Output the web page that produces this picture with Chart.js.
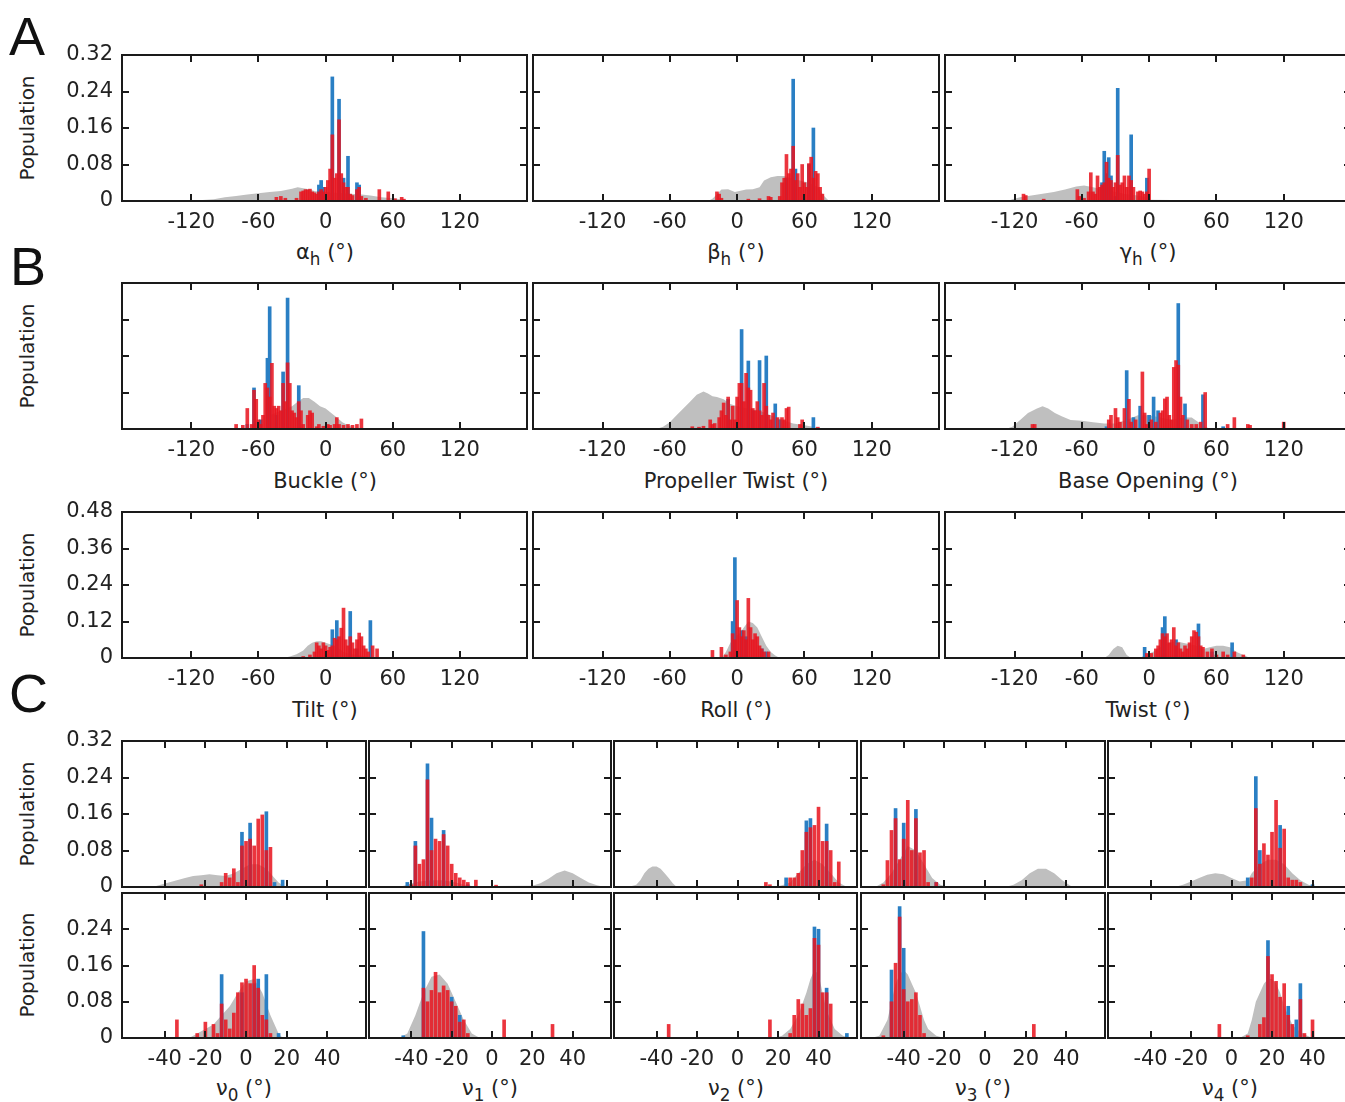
<!DOCTYPE html>
<html>
<head>
<meta charset="utf-8">
<script src="https://cdn.jsdelivr.net/npm/chart.js@4.4.1/dist/chart.umd.min.js"></script>
<style>
  html, body { margin: 0; padding: 0; width: 1345px; height: 1102px; overflow: hidden; background: #fff; }
  body { font-family: "DejaVu Sans", sans-serif; color: #222; position: relative; }
  canvas { position: absolute; }
  .lbl { position: absolute; font-size: 21px; line-height: 24px; white-space: nowrap; transform: translateX(-50%); }
  .pop { position: absolute; font-size: 20px; line-height: 24px; white-space: nowrap; transform: translate(-50%, -50%) rotate(-90deg); }
  .letter { position: absolute; font-family: "Liberation Sans", Arial, sans-serif; font-size: 54px; line-height: 54px; color: #111; }
  sub { font-size: 0.8em; vertical-align: -0.35em; line-height: 0; }
</style>
</head>
<body>
<div class="letter" style="left:9px;top:9px">A</div>
<div class="letter" style="left:10px;top:239px">B</div>
<div class="letter" style="left:9px;top:666px">C</div>

<div class="pop" style="left:27px;top:128px">Population</div>
<div class="pop" style="left:27px;top:356px">Population</div>
<div class="pop" style="left:27px;top:585px">Population</div>
<div class="pop" style="left:27px;top:814px">Population</div>
<div class="pop" style="left:27px;top:965px">Population</div>

<div class="lbl" style="left:325px;top:240px">α<sub>h</sub> (°)</div>
<div class="lbl" style="left:736px;top:240px">β<sub>h</sub> (°)</div>
<div class="lbl" style="left:1148px;top:240px">γ<sub>h</sub> (°)</div>
<div class="lbl" style="left:325px;top:469px">Buckle (°)</div>
<div class="lbl" style="left:736px;top:469px">Propeller Twist (°)</div>
<div class="lbl" style="left:1148px;top:469px">Base Opening (°)</div>
<div class="lbl" style="left:325px;top:698px">Tilt (°)</div>
<div class="lbl" style="left:736px;top:698px">Roll (°)</div>
<div class="lbl" style="left:1148px;top:698px">Twist (°)</div>
<div class="lbl" style="left:244px;top:1076px">ν<sub>0</sub> (°)</div>
<div class="lbl" style="left:490px;top:1076px">ν<sub>1</sub> (°)</div>
<div class="lbl" style="left:736px;top:1076px">ν<sub>2</sub> (°)</div>
<div class="lbl" style="left:983px;top:1076px">ν<sub>3</sub> (°)</div>
<div class="lbl" style="left:1230px;top:1076px">ν<sub>4</sub> (°)</div>

<script>
// tick values
const wideTicks = [-120, -60, 0, 60, 120];
const narrowTicks = [-40, -20, 0, 20, 40];
const popTicks32 = [0, 0.08, 0.16, 0.24, 0.32];
const popTicks48 = [0, 0.12, 0.24, 0.36, 0.48];
const popTicks24 = [0, 0.08, 0.16, 0.24];

// A: helical angles  [angle, population]
const alphaGray = [[-114,0],[-110,0.002],[-100,0.004],[-90,0.008],[-80,0.011],[-70,0.014],[-60,0.017],[-50,0.02],[-40,0.022],[-30,0.027],[-25,0.03],[-20,0.028],[-15,0.026],[-10,0.022],[-5,0.02],[0,0.02],[10,0.018],[20,0.016],[30,0.015],[40,0.012],[50,0.008],[60,0.006],[70,0.003],[78,0]];
const alphaBlue = [[-6,0.035],[-4,0.045],[-2,0.03],[6,0.272],[12,0.223],[16,0.05],[20,0.098],[28,0.04],[30,0.035]];
const alphaRed = [[-44,0.008],[-40,0.01],[-36,0.006],[-26,0.006],[-22,0.02],[-20,0.022],[-18,0.025],[-16,0.024],[-14,0.026],[-12,0.02],[-10,0.018],[-8,0.015],[-6,0.02],[-4,0.025],[-2,0.02],[0,0.03],[2,0.045],[4,0.07],[6,0.145],[8,0.05],[10,0.06],[12,0.178],[14,0.06],[16,0.04],[18,0.03],[20,0.03],[22,0.015],[24,0.012],[28,0.025],[30,0.03],[32,0.01],[36,0.006],[48,0.025],[56,0.02],[62,0.005],[68,0.008],[70,0.004]];

const betaGray = [[-26,0],[-22,0.005],[-18,0.015],[-14,0.025],[-8,0.026],[-2,0.02],[2,0.022],[8,0.025],[14,0.026],[20,0.03],[24,0.045],[30,0.052],[36,0.055],[42,0.055],[48,0.05],[56,0.045],[64,0.04],[72,0.03],[78,0.01],[82,0]];
const betaBlue = [[44,0.05],[50,0.267],[52,0.07],[64,0.08],[68,0.16]];
const betaRed = [[-18,0.02],[-16,0.015],[-14,0.006],[10,0.004],[20,0.005],[28,0.01],[30,0.008],[38,0.01],[40,0.04],[42,0.05],[44,0.102],[46,0.06],[48,0.07],[50,0.12],[52,0.045],[54,0.06],[56,0.03],[58,0.08],[60,0.04],[62,0.03],[64,0.082],[66,0.096],[68,0.05],[70,0.065],[72,0.06],[74,0.03],[76,0.015]];

const gammaGray = [[-126,0],[-122,0.004],[-115,0.008],[-105,0.012],[-95,0.016],[-85,0.02],[-75,0.025],[-65,0.032],[-58,0.034],[-50,0.03],[-40,0.025],[-30,0.02],[-20,0.015],[-10,0.012],[-2,0.008],[0,0.003],[20,0.002],[50,0.002],[58,0]];
const gammaBlue = [[-42,0.04],[-40,0.109],[-38,0.06],[-36,0.095],[-34,0.055],[-30,0.01],[-28,0.247],[-16,0.145],[-2,0.05]];
const gammaRed = [[-112,0.015],[-110,0.012],[-94,0.004],[-64,0.025],[-62,0.01],[-58,0.006],[-54,0.02],[-52,0.062],[-50,0.02],[-48,0.015],[-46,0.055],[-44,0.03],[-42,0.035],[-40,0.04],[-38,0.085],[-36,0.05],[-34,0.045],[-32,0.03],[-30,0.04],[-28,0.1],[-26,0.035],[-24,0.04],[-22,0.055],[-20,0.03],[-18,0.055],[-16,0.045],[-14,0.03],[-10,0.02],[-8,0.022],[-6,0.02],[-4,0.015],[-2,0.02],[0,0.07]];

// B: base-pair parameters
const buckleGray = [[-52,0],[-50,0.03],[-45,0.035],[-40,0.04],[-35,0.045],[-30,0.05],[-25,0.06],[-20,0.068],[-15,0.068],[-10,0.06],[-5,0.05],[0,0.045],[5,0.035],[10,0.025],[15,0.015],[20,0.008],[25,0.003],[30,0]];
const buckleBlue = [[-70,0.01],[-64,0.09],[-58,0.02],[-52,0.155],[-50,0.268],[-44,0.03],[-38,0.125],[-34,0.287],[-24,0.095]];
const buckleRed = [[-80,0.01],[-74,0.008],[-70,0.045],[-66,0.01],[-64,0.085],[-62,0.065],[-60,0.02],[-58,0.01],[-56,0.03],[-54,0.1],[-52,0.09],[-50,0.07],[-48,0.144],[-46,0.05],[-44,0.045],[-42,0.05],[-40,0.04],[-38,0.1],[-36,0.06],[-34,0.145],[-32,0.1],[-30,0.04],[-28,0.035],[-26,0.025],[-24,0.06],[-22,0.04],[-20,0.01],[-16,0.03],[-14,0.04],[-12,0.035],[-8,0.005],[-6,0.01],[-2,0.006],[2,0.01],[4,0.008],[8,0.01],[10,0.025],[12,0.01],[16,0.008],[20,0.01],[24,0.008],[28,0.01],[32,0.022]];

const propGray = [[-72,0],[-66,0.005],[-60,0.015],[-54,0.03],[-48,0.045],[-42,0.06],[-36,0.075],[-30,0.082],[-26,0.078],[-22,0.072],[-18,0.07],[-12,0.065],[-6,0.055],[0,0.05],[10,0.045],[20,0.04],[30,0.03],[40,0.02],[50,0.012],[60,0.008],[70,0.004],[76,0]];
const propBlue = [[-8,0.065],[4,0.218],[10,0.149],[14,0.04],[20,0.15],[26,0.16],[34,0.055],[38,0.02],[68,0.025]];
const propRed = [[-40,0.005],[-34,0.004],[-30,0.006],[-24,0.02],[-22,0.01],[-20,0.012],[-16,0.025],[-14,0.04],[-12,0.057],[-10,0.03],[-8,0.07],[-6,0.02],[-4,0.05],[-2,0.02],[0,0.07],[2,0.1],[4,0.1],[6,0.06],[8,0.122],[10,0.09],[12,0.085],[14,0.045],[16,0.04],[18,0.06],[20,0.04],[22,0.03],[24,0.1],[26,0.05],[28,0.03],[30,0.02],[32,0.035],[36,0.025],[40,0.025],[42,0.02],[44,0.045],[46,0.048],[56,0.01],[58,0.02],[72,0.004]];

const openGray = [[-128,0],[-122,0.005],[-115,0.02],[-108,0.035],[-100,0.045],[-95,0.05],[-90,0.045],[-84,0.035],[-78,0.028],[-70,0.02],[-60,0.018],[-50,0.015],[-40,0.012],[-30,0.012],[-20,0.02],[-10,0.03],[0,0.03],[10,0.025],[20,0.02],[30,0.025],[38,0.025],[44,0.015],[50,0.005],[55,0]];
const openBlue = [[-38,0.005],[-20,0.128],[-14,0.025],[-8,0.05],[0,0.03],[4,0.07],[8,0.04],[26,0.275],[32,0.055],[48,0.075],[66,0.005]];
const openRed = [[-104,0.01],[-102,0.01],[-36,0.02],[-34,0.03],[-30,0.045],[-28,0.025],[-26,0.015],[-22,0.045],[-18,0.065],[-16,0.015],[-12,0.02],[-6,0.125],[-4,0.035],[-2,0.01],[2,0.02],[6,0.015],[10,0.035],[12,0.04],[14,0.066],[16,0.07],[18,0.03],[20,0.02],[22,0.135],[24,0.15],[26,0.14],[28,0.07],[30,0.03],[34,0.02],[38,0.01],[42,0.01],[46,0.015],[50,0.08],[70,0.01],[76,0.025],[88,0.01],[90,0.008],[120,0.015]];

const tiltGray = [[-38,0],[-32,0.005],[-26,0.012],[-20,0.025],[-16,0.04],[-12,0.05],[-8,0.055],[-4,0.055],[0,0.05],[4,0.045],[8,0.04],[12,0.03],[16,0.02],[20,0.015],[28,0.01],[36,0.005],[44,0]];
const tiltBlue = [[6,0.093],[10,0.123],[22,0.153],[28,0.03],[40,0.123]];
const tiltRed = [[-20,0.005],[-14,0.01],[-10,0.02],[-8,0.05],[-6,0.04],[-4,0.03],[-2,0.05],[0,0.04],[2,0.025],[4,0.035],[6,0.04],[8,0.065],[10,0.06],[12,0.07],[14,0.098],[16,0.164],[18,0.06],[20,0.04],[22,0.07],[24,0.05],[26,0.03],[28,0.06],[30,0.082],[32,0.07],[34,0.04],[36,0.03],[38,0.02],[42,0.04],[46,0.03]];

const rollGray = [[-14,0],[-10,0.02],[-6,0.05],[-2,0.07],[2,0.08],[6,0.1],[10,0.12],[14,0.115],[18,0.1],[22,0.07],[26,0.04],[30,0.02],[34,0.008],[38,0]];
const rollBlue = [[-4,0.12],[-2,0.33],[4,0.09],[8,0.07],[22,0.03],[26,0.02]];
const rollRed = [[-22,0.025],[-14,0.035],[-10,0.01],[-6,0.02],[-4,0.08],[-2,0.06],[0,0.189],[2,0.1],[4,0.07],[6,0.09],[8,0.06],[10,0.196],[12,0.1],[14,0.06],[16,0.08],[18,0.07],[20,0.04],[22,0.03],[24,0.02],[28,0.02]];

const twistGray = [[-40,0],[-36,0.01],[-32,0.03],[-28,0.04],[-24,0.035],[-20,0.01],[-16,0],[-8,0],[-4,0.01],[0,0.015],[6,0.025],[12,0.04],[18,0.05],[24,0.055],[30,0.05],[36,0.045],[42,0.04],[48,0.03],[54,0.035],[60,0.04],[66,0.04],[72,0.035],[78,0.02],[84,0.01],[90,0]];
const twistBlue = [[-4,0.035],[12,0.1],[14,0.136],[24,0.06],[44,0.112],[56,0.02],[74,0.05]];
const twistRed = [[-2,0.015],[2,0.015],[6,0.03],[8,0.04],[10,0.06],[12,0.08],[14,0.07],[16,0.08],[18,0.05],[20,0.06],[22,0.1],[24,0.04],[26,0.05],[28,0.03],[30,0.02],[32,0.04],[34,0.03],[36,0.05],[38,0.07],[40,0.09],[42,0.085],[44,0.07],[46,0.04],[48,0.035],[52,0.02],[56,0.03],[60,0.01],[66,0.02],[70,0.01],[76,0.02],[84,0.01]];

// C: sugar torsions, top row and bottom row
const nu0TopGray = [[-46,0],[-42,0.005],[-38,0.01],[-34,0.015],[-30,0.02],[-26,0.024],[-22,0.026],[-18,0.028],[-14,0.026],[-10,0.024],[-6,0.03],[-2,0.04],[2,0.05],[6,0.05],[10,0.04],[14,0.02],[16,0.01],[18,0.004],[20,0]];
const nu0TopBlue = [[-2,0.12],[2,0.14],[10,0.165],[14,0.01],[18,0.015]];
const nu0TopRed = [[-22,0.005],[-12,0.01],[-10,0.03],[-8,0.02],[-6,0.04],[-4,0.01],[-2,0.09],[0,0.1],[2,0.105],[4,0.09],[6,0.149],[8,0.158],[10,0.08],[12,0.087]];
const nu0BotGray = [[-28,0],[-24,0.01],[-20,0.02],[-16,0.03],[-12,0.05],[-8,0.07],[-4,0.1],[0,0.125],[4,0.13],[8,0.1],[12,0.05],[16,0.01],[18,0]];
const nu0BotBlue = [[-12,0.14],[-2,0.1],[4,0.12],[6,0.13],[10,0.14],[16,0.01]];
const nu0BotRed = [[-34,0.04],[-24,0.01],[-20,0.035],[-16,0.03],[-14,0.01],[-12,0.075],[-10,0.04],[-8,0.02],[-6,0.055],[-4,0.1],[-2,0.122],[0,0.13],[2,0.12],[4,0.16],[6,0.11],[8,0.05],[10,0.04],[12,0.01]];

const nu1TopGray = [[-46,0],[-42,0.005],[-40,0.008],[-36,0.012],[-30,0.015],[-24,0.015],[-18,0.01],[-14,0.005],[-10,0.002],[0,0.002],[20,0.003],[24,0.008],[28,0.018],[32,0.03],[36,0.036],[40,0.03],[44,0.02],[48,0.01],[52,0.004],[56,0]];
const nu1TopBlue = [[-42,0.01],[-38,0.1],[-32,0.27],[-30,0.151],[-24,0.124],[-12,0.005]];
const nu1TopRed = [[-40,0.005],[-38,0.09],[-36,0.05],[-34,0.06],[-32,0.235],[-30,0.08],[-28,0.105],[-26,0.1],[-24,0.115],[-22,0.09],[-20,0.05],[-18,0.03],[-16,0.02],[-14,0.015],[-12,0.01],[-8,0.015],[2,0.004]];
const nu1BotGray = [[-46,0],[-42,0.01],[-38,0.05],[-34,0.1],[-30,0.135],[-26,0.14],[-22,0.12],[-18,0.08],[-14,0.04],[-10,0.01],[-6,0]];
const nu1BotBlue = [[-44,0.005],[-34,0.235],[-20,0.09],[-16,0.05]];
const nu1BotRed = [[-34,0.11],[-32,0.08],[-30,0.105],[-28,0.145],[-26,0.1],[-24,0.115],[-22,0.105],[-20,0.08],[-18,0.07],[-16,0.035],[-14,0.04],[-12,0.01],[6,0.04],[30,0.03]];

const nu2TopGray = [[-54,0],[-50,0.005],[-48,0.015],[-46,0.03],[-44,0.04],[-42,0.045],[-40,0.045],[-38,0.04],[-36,0.03],[-34,0.02],[-32,0.008],[-30,0],[18,0],[22,0.004],[26,0.01],[30,0.03],[34,0.05],[38,0.06],[42,0.05],[46,0.03],[50,0.01],[54,0]];
const nu2TopBlue = [[24,0.02],[34,0.145],[36,0.15],[44,0.138]];
const nu2TopRed = [[14,0.01],[16,0.005],[26,0.02],[28,0.02],[30,0.03],[32,0.08],[34,0.12],[36,0.13],[38,0.135],[40,0.175],[42,0.1],[44,0.1],[46,0.08],[48,0.01],[50,0.055]];
const nu2BotGray = [[18,0],[22,0.005],[26,0.02],[30,0.05],[34,0.1],[36,0.13],[38,0.15],[40,0.14],[42,0.1],[44,0.06],[48,0.02],[52,0.005],[56,0]];
const nu2BotBlue = [[38,0.245],[40,0.24],[44,0.11],[54,0.01]];
const nu2BotRed = [[-34,0.03],[16,0.04],[26,0.01],[28,0.05],[30,0.085],[32,0.075],[34,0.05],[36,0.065],[38,0.22],[40,0.205],[42,0.1],[44,0.1],[46,0.075]];

const nu3TopGray = [[-54,0],[-50,0.01],[-46,0.03],[-42,0.06],[-38,0.09],[-34,0.08],[-30,0.05],[-26,0.02],[-22,0.005],[-18,0],[10,0],[14,0.005],[18,0.015],[22,0.03],[26,0.04],[30,0.04],[34,0.03],[38,0.015],[42,0.003],[44,0]];
const nu3TopBlue = [[-44,0.172],[-40,0.14],[-34,0.17],[-24,0.01]];
const nu3TopRed = [[-50,0.005],[-48,0.058],[-46,0.124],[-44,0.15],[-42,0.06],[-40,0.105],[-38,0.19],[-36,0.08],[-34,0.15],[-32,0.075],[-30,0.08],[-28,0.01],[-24,0.01]];
const nu3BotGray = [[-56,0],[-52,0.005],[-48,0.04],[-46,0.08],[-44,0.12],[-42,0.14],[-40,0.15],[-38,0.14],[-36,0.12],[-34,0.1],[-32,0.07],[-30,0.04],[-28,0.02],[-24,0.005],[-20,0]];
const nu3BotBlue = [[-46,0.15],[-42,0.29],[-40,0.198]];
const nu3BotRed = [[-50,0.005],[-46,0.08],[-44,0.165],[-42,0.267],[-40,0.107],[-38,0.08],[-36,0.085],[-34,0.1],[-32,0.05],[-30,0.01],[24,0.03]];

const nu4TopGray = [[-28,0],[-24,0.005],[-20,0.012],[-16,0.02],[-12,0.027],[-8,0.03],[-4,0.028],[0,0.02],[4,0.012],[8,0.015],[10,0.03],[14,0.05],[18,0.06],[22,0.06],[26,0.05],[30,0.03],[34,0.015],[38,0.005],[42,0]];
const nu4TopBlue = [[8,0.02],[12,0.242],[14,0.08],[24,0.135],[40,0.005]];
const nu4TopRed = [[10,0.02],[12,0.172],[14,0.05],[16,0.095],[18,0.07],[20,0.12],[22,0.19],[24,0.085],[26,0.127],[28,0.02],[30,0.015],[32,0.015],[34,0.01]];
const nu4BotGray = [[4,0],[8,0.01],[10,0.04],[12,0.08],[14,0.1],[16,0.12],[18,0.13],[20,0.13],[22,0.12],[24,0.1],[26,0.07],[28,0.05],[30,0.03],[32,0.02],[36,0.008],[40,0]];
const nu4BotBlue = [[18,0.215],[28,0.07],[32,0.04],[34,0.12]];
const nu4BotRed = [[-6,0.03],[8,0.005],[14,0.03],[16,0.045],[18,0.18],[20,0.14],[22,0.125],[24,0.09],[26,0.12],[28,0.05],[30,0.03],[34,0.085],[36,0.01],[40,0.04]];

const GRAY = '#bfbfbf';
const BLUE = '#2a7fc4';
const RED = 'rgba(232, 20, 30, 0.86)';
const PADL = 70, PADT = 26, PADR = 6, PADB = 40;

// frame with inward tick marks on all four sides
const frame = {
  id: 'frame',
  afterDraw(chart) {
    const { ctx, chartArea: a, scales } = chart;
    const len = 7;
    ctx.save();
    ctx.strokeStyle = '#1a1a1a';
    ctx.lineWidth = 2;
    ctx.beginPath();
    scales.x.ticks.forEach(t => {
      const px = Math.round(scales.x.getPixelForValue(t.value));
      ctx.moveTo(px, a.bottom); ctx.lineTo(px, a.bottom - len);
      ctx.moveTo(px, a.top); ctx.lineTo(px, a.top + len);
    });
    scales.y.ticks.forEach(t => {
      if (t.value <= scales.y.min || t.value >= scales.y.max) return;
      const py = Math.round(scales.y.getPixelForValue(t.value));
      ctx.moveTo(a.left, py); ctx.lineTo(a.left + len, py);
      ctx.moveTo(a.right, py); ctx.lineTo(a.right - len, py);
    });
    ctx.stroke();
    ctx.strokeRect(a.left, a.top, a.right - a.left, a.bottom - a.top);
    ctx.restore();
  }
};

function toPoints(pairs) {
  return pairs.map(p => ({ x: p[0], y: p[1] }));
}

function makePanel(p) {
  const cv = document.createElement('canvas');
  cv.width = p.w + PADL + PADR;
  cv.height = p.h + PADT + PADB;
  cv.style.left = (p.x - PADL) + 'px';
  cv.style.top = (p.y - PADT) + 'px';
  document.body.appendChild(cv);

  const font = { family: 'DejaVu Sans', size: 21 };
  new Chart(cv, {
    type: 'bar',
    data: {
      datasets: [
        { type: 'bar', data: toPoints(p.red), backgroundColor: RED, barThickness: p.bar, grouped: false, order: 0 },
        { type: 'bar', data: toPoints(p.blue), backgroundColor: BLUE, barThickness: p.bar, grouped: false, order: 1 },
        { type: 'line', data: toPoints(p.gray), backgroundColor: GRAY, borderWidth: 0, pointRadius: 0, fill: 'origin', tension: 0, order: 2 }
      ]
    },
    options: {
      responsive: false,
      animation: false,
      layout: { padding: { left: 0, top: PADT, right: PADR, bottom: 0 } },
      plugins: { legend: { display: false }, tooltip: { enabled: false } },
      scales: {
        x: {
          type: 'linear', min: p.xMin, max: p.xMax, offset: false,
          afterBuildTicks: s => { s.ticks = p.xTicks.map(v => ({ value: v })); },
          afterFit: s => { s.height = PADB; },
          grid: { display: false, drawTicks: false },
          border: { display: false },
          ticks: { display: p.xLabels, autoSkip: false, maxRotation: 0, padding: 9, color: '#222', font }
        },
        y: {
          min: 0, max: p.yMax,
          afterBuildTicks: s => { s.ticks = p.yTicks.map(v => ({ value: v })); },
          afterFit: s => { s.width = PADL; },
          grid: { display: false, drawTicks: false },
          border: { display: false },
          ticks: { display: p.yLabels, padding: 9, color: '#222', font,
                   callback: v => v === 0 ? '0' : v.toFixed(2) }
        }
      }
    },
    plugins: [frame]
  });
}

const wide = { xMin: -182, xMax: 180, xTicks: wideTicks, bar: 3, h: 146 };
const narrow = { xMin: -61, xMax: 59, xTicks: narrowTicks, bar: 3, h: 146 };

const panels = [
  // row A
  { ...wide, x: 122, y: 55, w: 405, yMax: 0.32, yTicks: popTicks32, yLabels: true, xLabels: true, gray: alphaGray, blue: alphaBlue, red: alphaRed },
  { ...wide, x: 533, y: 55, w: 406, yMax: 0.32, yTicks: popTicks32, yLabels: false, xLabels: true, gray: betaGray, blue: betaBlue, red: betaRed },
  { ...wide, x: 945, y: 55, w: 406, yMax: 0.32, yTicks: popTicks32, yLabels: false, xLabels: true, gray: gammaGray, blue: gammaBlue, red: gammaRed },
  // row B, first line
  { ...wide, x: 122, y: 283, w: 405, yMax: 0.32, yTicks: popTicks32, yLabels: false, xLabels: true, gray: buckleGray, blue: buckleBlue, red: buckleRed },
  { ...wide, x: 533, y: 283, w: 406, yMax: 0.32, yTicks: popTicks32, yLabels: false, xLabels: true, gray: propGray, blue: propBlue, red: propRed },
  { ...wide, x: 945, y: 283, w: 406, yMax: 0.32, yTicks: popTicks32, yLabels: false, xLabels: true, gray: openGray, blue: openBlue, red: openRed },
  // row B, second line
  { ...wide, x: 122, y: 512, w: 405, yMax: 0.48, yTicks: popTicks48, yLabels: true, xLabels: true, gray: tiltGray, blue: tiltBlue, red: tiltRed },
  { ...wide, x: 533, y: 512, w: 406, yMax: 0.48, yTicks: popTicks48, yLabels: false, xLabels: true, gray: rollGray, blue: rollBlue, red: rollRed },
  { ...wide, x: 945, y: 512, w: 406, yMax: 0.48, yTicks: popTicks48, yLabels: false, xLabels: true, gray: twistGray, blue: twistBlue, red: twistRed },
  // row C, top
  { ...narrow, x: 122, y: 741, w: 244, yMax: 0.32, yTicks: popTicks32, yLabels: true, xLabels: false, gray: nu0TopGray, blue: nu0TopBlue, red: nu0TopRed },
  { ...narrow, x: 369, y: 741, w: 242, yMax: 0.32, yTicks: popTicks32, yLabels: false, xLabels: false, gray: nu1TopGray, blue: nu1TopBlue, red: nu1TopRed },
  { ...narrow, x: 614, y: 741, w: 243, yMax: 0.32, yTicks: popTicks32, yLabels: false, xLabels: false, gray: nu2TopGray, blue: nu2TopBlue, red: nu2TopRed },
  { ...narrow, x: 861, y: 741, w: 244, yMax: 0.32, yTicks: popTicks32, yLabels: false, xLabels: false, gray: nu3TopGray, blue: nu3TopBlue, red: nu3TopRed },
  { ...narrow, x: 1108, y: 741, w: 243, yMax: 0.32, yTicks: popTicks32, yLabels: false, xLabels: false, gray: nu4TopGray, blue: nu4TopBlue, red: nu4TopRed },
  // row C, bottom
  { ...narrow, x: 122, y: 893, w: 244, h: 145, yMax: 0.32, yTicks: popTicks24, yLabels: true, xLabels: true, gray: nu0BotGray, blue: nu0BotBlue, red: nu0BotRed },
  { ...narrow, x: 369, y: 893, w: 242, h: 145, yMax: 0.32, yTicks: popTicks24, yLabels: false, xLabels: true, gray: nu1BotGray, blue: nu1BotBlue, red: nu1BotRed },
  { ...narrow, x: 614, y: 893, w: 243, h: 145, yMax: 0.32, yTicks: popTicks24, yLabels: false, xLabels: true, gray: nu2BotGray, blue: nu2BotBlue, red: nu2BotRed },
  { ...narrow, x: 861, y: 893, w: 244, h: 145, yMax: 0.32, yTicks: popTicks24, yLabels: false, xLabels: true, gray: nu3BotGray, blue: nu3BotBlue, red: nu3BotRed },
  { ...narrow, x: 1108, y: 893, w: 243, h: 145, yMax: 0.32, yTicks: popTicks24, yLabels: false, xLabels: true, gray: nu4BotGray, blue: nu4BotBlue, red: nu4BotRed }
];

panels.forEach(makePanel);
</script>
</body>
</html>
